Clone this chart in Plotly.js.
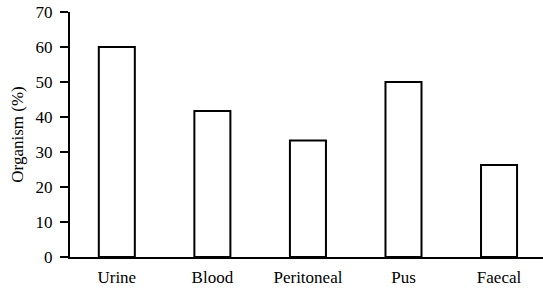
<!DOCTYPE html>
<html>
<head>
<meta charset="utf-8">
<script src="https://cdn.plot.ly/plotly-3.0.1.min.js"></script>
<style>html,body{margin:0;padding:0;background:#fff;}#chart{width:543px;height:290px;}</style>
</head>
<body>
<div id="chart"></div>
<script>
const categories = ["Urine", "Blood", "Peritoneal", "Pus", "Faecal"];
const organismPct = [60, 41.7, 33.3, 50, 26.3];
const yTicks = [0, 10, 20, 30, 40, 50, 60, 70];

const trace = {
  type: "bar",
  x: categories,
  y: organismPct,
  marker: {color: "#ffffff", line: {color: "#000000", width: 2}},
  hoverinfo: "none"
};

const font = {family: "'Liberation Serif', 'Times New Roman', 'DejaVu Serif', serif", size: 17, color: "#000"};

const layout = {
  width: 543, height: 290,
  margin: {l: 70, r: 0, t: 12, b: 33, pad: 0},
  paper_bgcolor: "#fff", plot_bgcolor: "#fff",
  font: font,
  showlegend: false,
  bargap: 0.623,
  xaxis: {
    type: "category",
    range: [-0.49, 4.46],
    showline: true, linecolor: "#000", linewidth: 2,
    ticks: "", showgrid: false, zeroline: false,
    tickfont: font,
    ticklabelstandoff: 4
  },
  yaxis: {
    range: [0, 70],
    tickvals: yTicks,
    ticktext: yTicks.map(String),
    showline: true, linecolor: "#000", linewidth: 2,
    ticks: "outside", ticklen: 8, tickwidth: 2, tickcolor: "#000",
    showgrid: false, zeroline: false,
    tickfont: font,
    ticklabelstandoff: 4,
    title: {text: "Organism (%)", font: font, standoff: 8}
  }
};

Plotly.newPlot("chart", [trace], layout, {staticPlot: true, displayModeBar: false});
</script>
</body>
</html>
